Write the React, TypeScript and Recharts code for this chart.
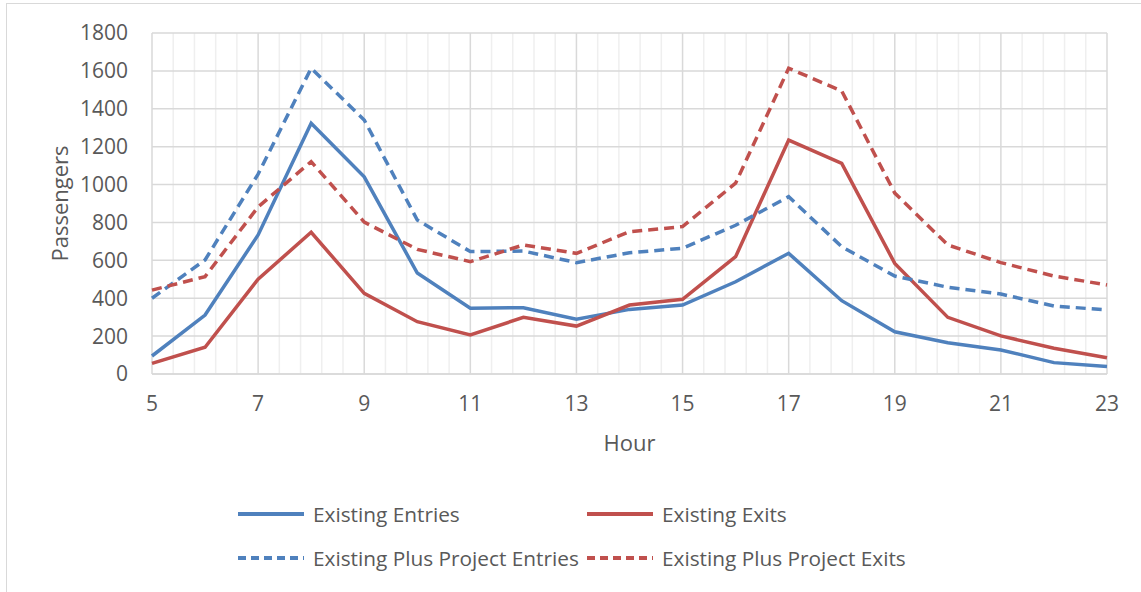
import React from 'react';
import { LineChart, Line, XAxis, YAxis, CartesianGrid, Legend } from 'recharts';

const hours = [5, 6, 7, 8, 9, 10, 11, 12, 13, 14, 15, 16, 17, 18, 19, 20, 21, 22, 23];
const existingEntries = [95, 311, 734, 1323, 1041, 533, 347, 350, 289, 341, 364, 487, 637, 387, 223, 165, 127, 60, 39];
const existingExits = [56, 141, 501, 748, 426, 276, 206, 299, 253, 364, 394, 619, 1235, 1112, 584, 299, 201, 136, 86];
const plusProjectEntries = [400, 602, 1055, 1614, 1341, 813, 646, 649, 588, 640, 664, 785, 936, 672, 517, 458, 422, 359, 338];
const plusProjectExits = [443, 514, 882, 1121, 802, 658, 593, 681, 637, 751, 778, 1007, 1614, 1494, 955, 681, 588, 517, 470];

const xTicks = [5, 7, 9, 11, 13, 15, 17, 19, 21, 23];
const yTicks = [0, 200, 400, 600, 800, 1000, 1200, 1400, 1600, 1800];
const minorStep = 0.4;
const minorTicks: number[] = [];
for (let i = 1; i < 45; i++) {
  if (i % 5 !== 0) minorTicks.push(5 + i * minorStep);
}

const BLUE = '#4F81BD';
const RED = '#C0504D';
const TEXT = '#595959';
const FONT = '"Open Sans", sans-serif';

const series = [
  { key: 'existingEntries', name: 'Existing Entries', color: BLUE, dash: undefined as string | undefined },
  { key: 'existingExits', name: 'Existing Exits', color: RED, dash: undefined as string | undefined },
  { key: 'plusProjectEntries', name: 'Existing Plus Project Entries', color: BLUE, dash: '10 6' },
  { key: 'plusProjectExits', name: 'Existing Plus Project Exits', color: RED, dash: '10 6' },
];

const data = hours.map((h, i) => ({
  hour: h,
  existingEntries: existingEntries[i],
  existingExits: existingExits[i],
  plusProjectEntries: plusProjectEntries[i],
  plusProjectExits: plusProjectExits[i],
}));

const LegendContent = () => (
  <div style={{ position: 'relative', width: 1141, height: 110, fontFamily: FONT }}>
    {series.map((s, i) => {
      const col = i % 2;
      const row = Math.floor(i / 2);
      return (
        <div
          key={s.key}
          style={{
            position: 'absolute',
            left: col === 0 ? 236 : 585,
            top: row * 44 + 14,
            height: 36,
            display: 'flex',
            alignItems: 'center',
            whiteSpace: 'nowrap',
          }}
        >
          <svg width={70} height={8} style={{ marginRight: 7 }}>
            <line x1={2} y1={4} x2={68} y2={4} stroke={s.color} strokeWidth={4} strokeDasharray={s.dash ? '8 5' : undefined} />
          </svg>
          <span style={{ fontSize: 20.8, color: TEXT }}>{s.name}</span>
        </div>
      );
    })}
  </div>
);

export default function App() {
  return (
    <div style={{ position: 'absolute', left: 0, top: 0, width: 1141, height: 592, overflow: 'hidden', background: '#fff' }}>
      <div style={{ position: 'absolute', left: 6, top: 3, width: 1160, height: 620, border: '1.5px solid #d9d9d9', boxSizing: 'border-box' }} />
      <div style={{ position: 'absolute', left: 0, top: 0 }}>
        <LineChart width={1141} height={592} data={data} margin={{ top: 33, right: 34, left: 0, bottom: 0 }}>
          <CartesianGrid
            horizontal={false}
            stroke="#efefef"
            strokeWidth={1.5}
            verticalCoordinatesGenerator={(props: any) => {
              const { xAxis, offset } = props;
              if (xAxis && typeof xAxis.scale === 'function') return minorTicks.map((t) => xAxis.scale(t));
              return minorTicks.map((t) => offset.left + ((t - 5) / 18) * offset.width);
            }}
          />
          <CartesianGrid stroke="#d9d9d9" strokeWidth={1.5} />
          <XAxis
            dataKey="hour"
            type="number"
            domain={[5, 23]}
            ticks={xTicks}
            interval={0}
            axisLine={{ stroke: '#d9d9d9', strokeWidth: 1.5 }}
            tickLine={false}
            tickSize={0}
            tickMargin={22}
            height={108}
            tick={{ fill: TEXT, fontSize: 21, fontFamily: FONT }}
            label={{ value: 'Hour', position: 'center', dy: 15, fill: TEXT, fontSize: 22, fontFamily: FONT }}
          />
          <YAxis
            type="number"
            domain={[0, 1800]}
            ticks={yTicks}
            interval={0}
            width={152}
            axisLine={false}
            tickLine={false}
            tickSize={0}
            tickMargin={24}
            tick={{ fill: TEXT, fontSize: 21, fontFamily: FONT }}
            label={{ value: 'Passengers', angle: -90, position: 'center', dx: -16, fill: TEXT, fontSize: 22, fontFamily: FONT }}
          />
          <Legend verticalAlign="bottom" height={110} content={<LegendContent />} />
          {series.map((s) => (
            <Line
              key={s.key}
              type="linear"
              dataKey={s.key}
              name={s.name}
              stroke={s.color}
              strokeWidth={3.5}
              strokeDasharray={s.dash}
              dot={false}
              activeDot={false}
              isAnimationActive={false}
            />
          ))}
        </LineChart>
      </div>
    </div>
  );
}
